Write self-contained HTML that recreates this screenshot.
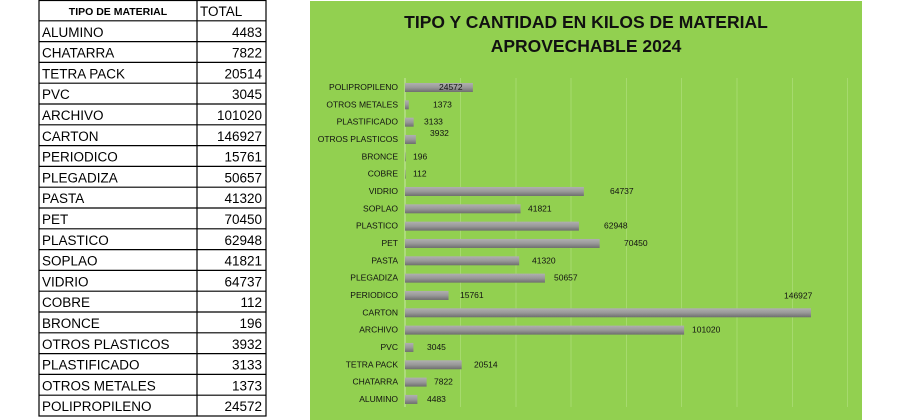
<!DOCTYPE html>
<html><head><meta charset="utf-8"><style>
html,body{margin:0;padding:0;background:#fff;width:910px;height:420px;overflow:hidden}
svg{display:block}
</style></head><body>
<svg width="910" height="420" xmlns="http://www.w3.org/2000/svg" font-family="Liberation Sans, sans-serif">
<defs>
<linearGradient id="g" x1="0" y1="0" x2="0" y2="1">
<stop offset="0" stop-color="#b0b0b0"/><stop offset="0.5" stop-color="#999"/><stop offset="1" stop-color="#6e6e6e"/>
</linearGradient>
</defs>
<!-- table -->
<g id="tbl" stroke="#000" stroke-width="1.2" fill="none">
<rect x="39" y="0.5" width="227" height="415.5"/>
<line x1="197" y1="0" x2="197" y2="416"/>
</g>
<g id="rows"></g>
<!-- chart panel -->
<rect x="310" y="1" width="552" height="419" fill="#92d050"/>
<g stroke="#a6da6e" stroke-width="1">
<line x1="460.5" y1="78" x2="460.5" y2="407"/><line x1="516" y1="78" x2="516" y2="407"/>
<line x1="571" y1="78" x2="571" y2="407"/><line x1="626.5" y1="78" x2="626.5" y2="407"/>
<line x1="681.5" y1="78" x2="681.5" y2="407"/><line x1="737" y1="78" x2="737" y2="407"/>
<line x1="792.5" y1="78" x2="792.5" y2="407"/><line x1="847.5" y1="78" x2="847.5" y2="407"/>
</g>
<line x1="405" y1="78" x2="405" y2="407" stroke="#c8e6a6" stroke-width="1"/>
<text x="586" y="28" font-size="17.5" font-weight="bold" text-anchor="middle" fill="#111">TIPO Y CANTIDAD EN KILOS DE MATERIAL</text>
<text x="586" y="52" font-size="17.5" font-weight="bold" text-anchor="middle" fill="#111">APROVECHABLE 2024</text>
<g id="bars" font-size="8.5" fill="#111"></g>
</svg>
<script>
var t=[["ALUMINO",4483],["CHATARRA",7822],["TETRA PACK",20514],["PVC",3045],["ARCHIVO",101020],["CARTON",146927],["PERIODICO",15761],["PLEGADIZA",50657],["PASTA",41320],["PET",70450],["PLASTICO",62948],["SOPLAO",41821],["VIDRIO",64737],["COBRE",112],["BRONCE",196],["OTROS PLASTICOS",3932],["PLASTIFICADO",3133],["OTROS METALES",1373],["POLIPROPILENO",24572]];
var ns="http://www.w3.org/2000/svg";
function el(p,n,a,txt){var e=document.createElementNS(ns,n);for(var k in a)e.setAttribute(k,a[k]);if(txt!=null)e.textContent=txt;p.appendChild(e);return e;}
var R=document.getElementById("rows"),rh=20.8;
el(R,"text",{x:118,y:15,"font-size":10.5,"font-weight":"bold","text-anchor":"middle"},"TIPO DE MATERIAL");
el(R,"text",{x:200,y:16,"font-size":13.5},"TOTAL");
for(var i=0;i<t.length;i++){var y=rh*(i+1);
el(R,"line",{x1:39,x2:266,y1:y,y2:y,stroke:"#000","stroke-width":1.2});
el(R,"text",{x:42,y:y+16,"font-size":13.5},t[i][0]);
el(R,"text",{x:262,y:y+16,"font-size":13.5,"text-anchor":"end"},t[i][1]);}
var order=["POLIPROPILENO","OTROS METALES","PLASTIFICADO","OTROS PLASTICOS","BRONCE","COBRE","VIDRIO","SOPLAO","PLASTICO","PET","PASTA","PLEGADIZA","PERIODICO","CARTON","ARCHIVO","PVC","TETRA PACK","CHATARRA","ALUMINO"];
var lx={POLIPROPILENO:439,"OTROS METALES":433,PLASTIFICADO:424,"OTROS PLASTICOS":430,BRONCE:413,COBRE:413,VIDRIO:610,SOPLAO:528,PLASTICO:604,PET:624,PASTA:532,PLEGADIZA:554,PERIODICO:460,CARTON:784,ARCHIVO:692,PVC:427,"TETRA PACK":474,CHATARRA:434,ALUMINO:427};
var m={};t.forEach(function(r){m[r[0]]=r[1];});
var B=document.getElementById("bars");
order.forEach(function(n,i){var cy=87+i*17.33,v=m[n],w=Math.max(v*0.002763,0.6);
el(B,"text",{x:398,y:cy+3,"text-anchor":"end"},n);
el(B,"rect",{x:405,y:cy-4,width:w,height:9,fill:"url(#g)"});
var ty=cy+3;if(n=="OTROS PLASTICOS")ty=cy-3;if(n=="CARTON")ty=cy-14;
el(B,"text",{x:lx[n],y:ty},v);});
</script>
</body></html>
